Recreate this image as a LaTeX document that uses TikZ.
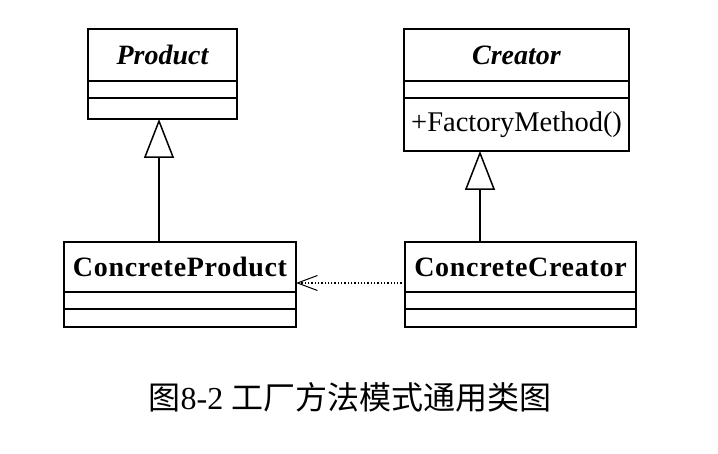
\documentclass[tikz,border=0pt]{standalone}
\usepackage{fontspec}
\setmainfont{Liberation Serif}
\newfontfamily\cjk{Noto Sans CJK SC}
\newfontfamily\widebold[LetterSpace=2.5]{Liberation Serif}
\usetikzlibrary{arrows.meta}
\begin{document}
\begin{tikzpicture}[x=1pt,y=-1pt,
  cls/.style={draw,line width=1.6pt,inner sep=0pt,outer sep=0pt,rectangle,anchor=north west},
  namefont/.style={font=\fontsize{28}{30}\selectfont\widebold\bfseries},
  absfont/.style={font=\fontsize{28}{30}\selectfont\bfseries\itshape},
  inh/.style={line width=1.5pt,-{Triangle[open,length=39pt,width=30pt,line width=1.5pt]}},
  dep/.style={line width=1.3pt,dotted,-{Straight Barb[length=20pt,width=15pt,line width=1pt]}}]
\useasboundingbox (0,0) rectangle (718,454);
% Product
\node[cls,absfont,minimum width=149pt,minimum height=52pt] (pn) at (88,29) {Product};
\node[cls,minimum width=149pt,minimum height=17pt] (pa) at (88,81) {};
\node[cls,minimum width=149pt,minimum height=21pt] (po) at (88,98) {};
% Creator
\node[cls,absfont,minimum width=225pt,minimum height=52pt] (cn) at (404,29) {Creator};
\node[cls,minimum width=225pt,minimum height=17pt] (ca) at (404,81) {};
\node[cls,minimum width=225pt,minimum height=53pt] (co) at (404,98) {};
\node[anchor=west,inner sep=0pt,font=\fontsize{28.5}{30}\selectfont] (cm) at (411,125) {+FactoryMethod()};
% ConcreteProduct
\node[cls,namefont,minimum width=232pt,minimum height=50pt] (cpn) at (64,242) {ConcreteProduct};
\node[cls,minimum width=232pt,minimum height=17pt] (cpa) at (64,292) {};
\node[cls,minimum width=232pt,minimum height=18pt] (cpo) at (64,309) {};
% ConcreteCreator
\node[cls,namefont,minimum width=231pt,minimum height=50pt] (ccn) at (405,242) {ConcreteCreator};
\node[cls,minimum width=231pt,minimum height=17pt] (cca) at (405,292) {};
\node[cls,minimum width=231pt,minimum height=18pt] (cco) at (405,309) {};
% connectors
\coordinate (a1) at (159,119);
\coordinate (a2) at (480,151);
\coordinate (d1) at (0,283);
\draw[inh] (cpn.north -| a1) -- (a1);
\draw[inh] (ccn.north -| a2) -- (a2);
\draw[dep] (ccn.west |- d1) -- (cpn.east |- d1);
% caption
\node[font=\fontsize{32}{34}\selectfont,inner sep=0pt] (cap) at (350,397) {{\cjk 图}8-2 {\cjk 工厂方法模式通用类图}};
\end{tikzpicture}
\end{document}
